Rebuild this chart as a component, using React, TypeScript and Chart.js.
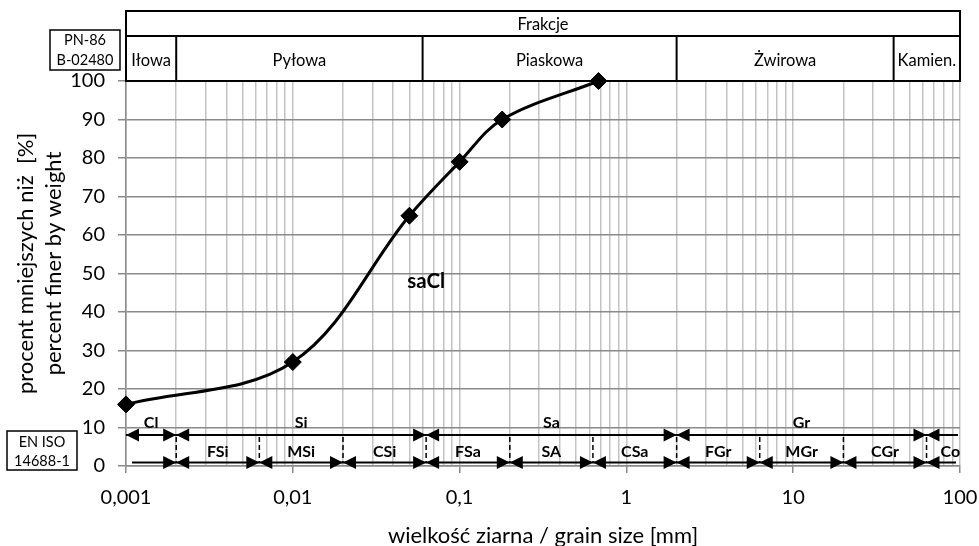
import React, { useEffect, useRef } from "react";
import { Chart, registerables } from "chart.js";

Chart.register(...registerables);

// ---- data ----
const GRAIN_SIZE_MM = [0.001, 0.01, 0.05, 0.1, 0.18, 0.68];
const PERCENT_FINER = [16, 27, 65, 79, 90, 100];

const X_DECADES = [0.001, 0.01, 0.1, 1, 10, 100];
const X_TICK_LABELS = ["0,001", "0,01", "0,1", "1", "10", "100"];
const X_MINOR_MULTIPLIERS = [2, 3, 4, 5, 6, 7, 8, 9];
const Y_MIN = 0;
const Y_MAX = 100;
const Y_STEP = 10;

const Y_TITLE = ["procent mniejszych niż  [%]", "percent finer by weight"];
const X_TITLE = "wielkość ziarna / grain size [mm]";

const PN_TITLE = "Frakcje";
const PN_STANDARD = ["PN-86", "B-02480"];
const PN_BOUNDS = [0.002, 0.06, 2, 40];
const PN_LABELS = ["Iłowa", "Pyłowa", "Piaskowa", "Żwirowa", "Kamien."];

const ISO_STANDARD = ["EN ISO", "14688-1"];
const ISO_MAIN_BOUNDS = [0.002, 0.063, 2, 63];
const ISO_MAIN_LABELS = ["Cl", "Si", "Sa", "Gr", ""];
const ISO_SUB_BOUNDS = [0.002, 0.0063, 0.02, 0.063, 0.2, 0.63, 2, 6.3, 20, 63];
const ISO_SUB_LABELS = ["", "FSi", "MSi", "CSi", "FSa", "SA", "CSa", "FGr", "MGr", "CGr", "Co"];

const SOIL_NAME = "saCl";
const SOIL_NAME_AT = { x: 0.063, y: 48 };

const FONT = "Lato, 'Open Sans', sans-serif";

const GRID_VALUES: number[] = [];
X_DECADES.forEach((d, i) => {
  GRID_VALUES.push(d);
  if (i < X_DECADES.length - 1) X_MINOR_MULTIPLIERS.forEach((m) => GRID_VALUES.push(m * d));
});

function decadeIndex(v: number) {
  return X_DECADES.findIndex((d) => Math.abs(Math.log10(v) - Math.log10(d)) < 1e-9);
}

function arrowHead(ctx: CanvasRenderingContext2D, tipX: number, y: number, dir: number) {
  const L = 13;
  const H = 6.5;
  ctx.beginPath();
  ctx.moveTo(tipX, y);
  ctx.lineTo(tipX - dir * L, y - H);
  ctx.lineTo(tipX - dir * L, y + H);
  ctx.closePath();
  ctx.fill();
}

const decorPlugin = {
  id: "decor",
  beforeDatasetsDraw(chart: any) {
    const ctx: CanvasRenderingContext2D = chart.ctx;
    const xs = chart.scales.x;
    const ys = chart.scales.y;
    const area = chart.chartArea;
    const left = xs.getPixelForValue(X_DECADES[0]);
    const right = xs.getPixelForValue(X_DECADES[X_DECADES.length - 1]);
    ctx.save();
    ctx.fillStyle = "#000";
    ctx.strokeStyle = "#000";

    // ---- header (PN-86) ----
    const hTop = 11;
    const hMid = 36;
    const hBot = area.top;
    ctx.lineWidth = 2;
    ctx.strokeRect(left, hTop, right - left, hBot - hTop);
    ctx.beginPath();
    ctx.moveTo(left, hMid);
    ctx.lineTo(right, hMid);
    PN_BOUNDS.forEach((b) => {
      const px = xs.getPixelForValue(b);
      ctx.moveTo(px, hMid);
      ctx.lineTo(px, hBot);
    });
    ctx.stroke();
    ctx.textAlign = "center";
    ctx.textBaseline = "middle";
    ctx.font = `16.5px ${FONT}`;
    ctx.fillText(PN_TITLE, (left + right) / 2, (hTop + hMid) / 2 + 1);
    const pnEdges = [left, ...PN_BOUNDS.map((b) => xs.getPixelForValue(b)), right];
    PN_LABELS.forEach((lab, i) => {
      ctx.fillText(lab, (pnEdges[i] + pnEdges[i + 1]) / 2, (hMid + hBot) / 2 + 2);
    });

    // PN standard box
    ctx.lineWidth = 1.5;
    ctx.strokeRect(50, 30, 70, 40);
    ctx.font = `14.5px ${FONT}`;
    ctx.fillText(PN_STANDARD[0], 85, 40.5);
    ctx.fillText(PN_STANDARD[1], 85, 60);

    // ISO standard box
    ctx.strokeRect(7, 431, 70, 39);
    ctx.fillText(ISO_STANDARD[0], 42, 442);
    ctx.fillText(ISO_STANDARD[1], 42, 461);

    // ---- ISO arrows ----
    const upY = area.bottom - 31;
    const loY = area.bottom - 3.5;
    ctx.lineWidth = 2.2;
    ctx.beginPath();
    ctx.moveTo(left, upY);
    ctx.lineTo(right - 2, upY);
    ctx.moveTo(left + 6, loY);
    ctx.lineTo(right - 4, loY);
    ctx.stroke();
    arrowHead(ctx, left, upY, -1);
    ISO_MAIN_BOUNDS.forEach((b) => {
      const px = xs.getPixelForValue(b);
      arrowHead(ctx, px, upY, 1);
      arrowHead(ctx, px, upY, -1);
    });
    ISO_SUB_BOUNDS.forEach((b) => {
      const px = xs.getPixelForValue(b);
      arrowHead(ctx, px, loY, 1);
      arrowHead(ctx, px, loY, -1);
    });
    ctx.lineWidth = 1.5;
    ctx.setLineDash([5, 3]);
    ctx.beginPath();
    ISO_SUB_BOUNDS.forEach((b) => {
      const px = xs.getPixelForValue(b);
      ctx.moveTo(px, upY + 2);
      ctx.lineTo(px, loY);
    });
    ctx.stroke();
    ctx.setLineDash([]);

    ctx.font = `bold 16px ${FONT}`;
    const mainEdges = [left, ...ISO_MAIN_BOUNDS.map((b) => xs.getPixelForValue(b)), right];
    ISO_MAIN_LABELS.forEach((lab, i) => {
      if (lab) ctx.fillText(lab, (mainEdges[i] + mainEdges[i + 1]) / 2, upY - 12);
    });
    const subEdges = [left, ...ISO_SUB_BOUNDS.map((b) => xs.getPixelForValue(b)), right];
    ISO_SUB_LABELS.forEach((lab, i) => {
      if (lab) ctx.fillText(lab, (subEdges[i] + subEdges[i + 1]) / 2 + (i === ISO_SUB_LABELS.length - 1 ? 7 : 0), loY - 11);
    });

    // soil name
    ctx.font = `bold 20.5px ${FONT}`;
    ctx.fillText(SOIL_NAME, xs.getPixelForValue(SOIL_NAME_AT.x), ys.getPixelForValue(SOIL_NAME_AT.y));

    // ---- axis titles ----
    ctx.font = `22px ${FONT}`;
    const midY = (area.top + area.bottom) / 2 - 10;
    ctx.save();
    ctx.translate(26, midY);
    ctx.rotate(-Math.PI / 2);
    ctx.fillText(Y_TITLE[0], 0, 0);
    ctx.restore();
    ctx.save();
    ctx.translate(54, midY);
    ctx.rotate(-Math.PI / 2);
    ctx.fillText(Y_TITLE[1], 0, 0);
    ctx.restore();
    ctx.fillText(X_TITLE, (left + right) / 2, 536);

    ctx.restore();
  },
};

export default function App() {
  const ref = useRef<HTMLCanvasElement>(null);
  useEffect(() => {
    document.body.style.margin = "0";
    const canvas = ref.current!;
    const chart = new Chart(canvas, {
      type: "line",
      data: {
        datasets: [
          {
            data: GRAIN_SIZE_MM.map((x, i) => ({ x, y: PERCENT_FINER[i] })),
            borderColor: "#000",
            borderWidth: 3,
            pointStyle: "rectRot",
            pointRadius: 8.5,
            pointHoverRadius: 8.5,
            pointBackgroundColor: "#000",
            pointBorderColor: "#000",
            pointBorderWidth: 1,
            tension: 0.35,
            clip: false as any,
          },
        ],
      },
      options: {
        responsive: false,
        animation: false,
        devicePixelRatio: 1,
        layout: { padding: { top: 81, right: 19, left: 0, bottom: 0 } },
        plugins: { legend: { display: false }, tooltip: { enabled: false } },
        scales: {
          x: {
            type: "logarithmic",
            min: X_DECADES[0],
            max: X_DECADES[X_DECADES.length - 1],
            afterBuildTicks: (s: any) => {
              s.ticks = GRID_VALUES.map((v) => ({ value: v }));
            },
            afterFit: (s: any) => {
              s.height = 80;
              s.paddingLeft = 0;
              s.paddingRight = 0;
            },
            ticks: {
              autoSkip: false,
              maxRotation: 0,
              minRotation: 0,
              padding: 13,
              color: "#000",
              font: { family: FONT, size: 20 },
              callback: (v: any) => {
                const i = decadeIndex(Number(v));
                return i >= 0 ? X_TICK_LABELS[i] : "";
              },
            },
            grid: {
              color: "#c3c3c3",
              lineWidth: 1.5,
              tickLength: 7,
              tickColor: (c: any) => (c.tick && decadeIndex(c.tick.value) >= 0 ? "#8a8a8a" : "rgba(0,0,0,0)"),
            },
            border: { color: "#8a8a8a", width: 1.5 },
          } as any,
          y: {
            min: Y_MIN,
            max: Y_MAX,
            afterFit: (s: any) => {
              s.width = 126;
              s.paddingTop = 0;
              s.paddingBottom = 0;
            },
            ticks: {
              stepSize: Y_STEP,
              padding: 13,
              color: "#000",
              font: { family: FONT, size: 20 },
            },
            grid: { color: "#8a8a8a", lineWidth: 1.5, tickLength: 8, tickColor: "#8a8a8a" },
            border: { color: "#8a8a8a", width: 1.5 },
          },
        },
      },
      plugins: [decorPlugin],
    });
    return () => chart.destroy();
  }, []);
  return (
    <div style={{ position: "absolute", left: 0, top: 0, width: 979, height: 546 }}>
      <canvas ref={ref} width={979} height={546} style={{ width: 979, height: 546, display: "block" }} />
    </div>
  );
}
